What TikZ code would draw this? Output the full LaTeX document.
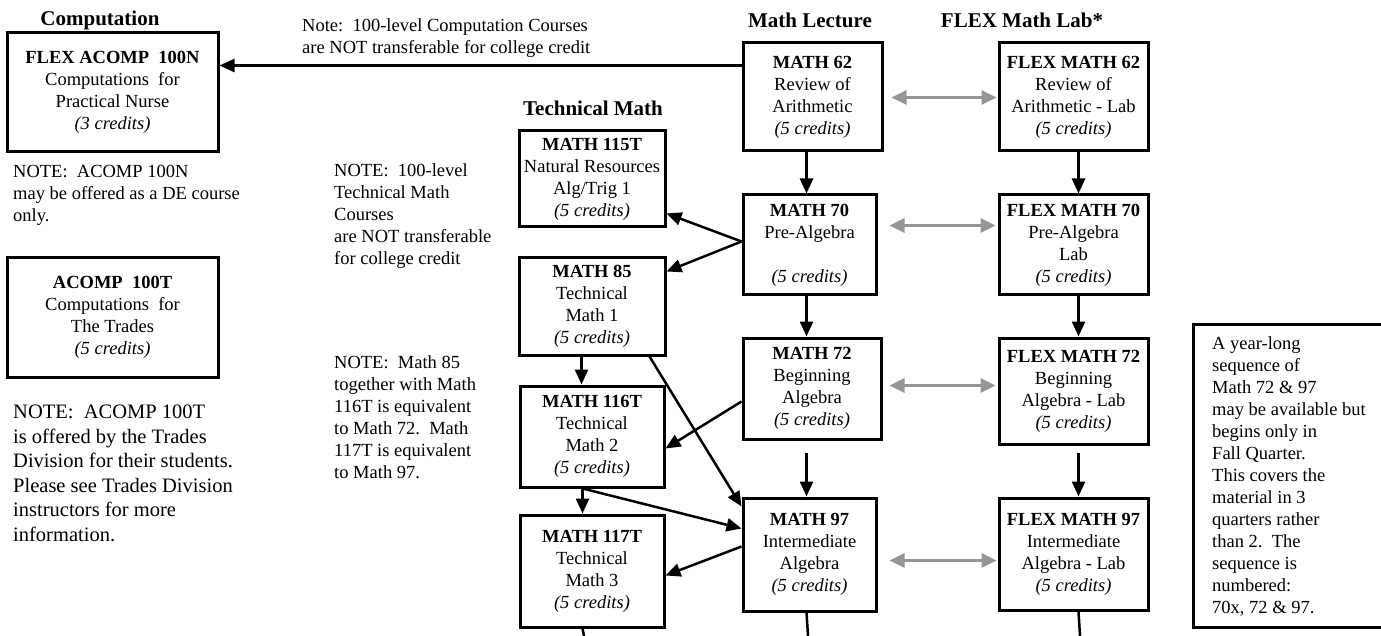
\documentclass[tikz,border=0pt]{standalone}
\usepackage{fontspec}
\setmainfont{Liberation Serif}
\usetikzlibrary{arrows.meta,calc}
\definecolor{arrgray}{RGB}{150,150,150}
\frenchspacing
\tikzset{
  box/.style={draw, line width=3pt, rectangle, inner sep=0pt, align=center,
    font=\fontsize{18.5}{22}\selectfont},
  arr/.style={line width=2.5pt, -{Triangle[length=15pt,width=13pt]}},
  plain/.style={line width=2.5pt},
  garr/.style={draw=arrgray, line width=3pt,
    {Triangle[length=15pt,width=14pt]}-{Triangle[length=15pt,width=14pt]}},
  note/.style={anchor=north west, align=left, inner sep=0pt,
    font=\fontsize{18.5}{22}\selectfont},
  bignote/.style={anchor=north west, align=left, inner sep=0pt,
    font=\fontsize{20.5}{24.5}\selectfont},
  hdr/.style={inner sep=0pt, font=\fontsize{21}{24}\selectfont\bfseries}
}
\newcommand{\cred}[1]{\textit{(#1 credits)}}
\begin{document}
\begin{tikzpicture}[x=1pt,y=-1pt]
\useasboundingbox (0,0) rectangle (1381,636);

% headers
\node[hdr] (hcomp) at (100,20) {Computation};
\node[hdr] (hlect) at (810,20) {Math Lecture};
\node[hdr] (hflex) at (1022,20) {FLEX Math Lab*};
\node[hdr] (htech) at (593,108) {Technical Math};

% notes
\node[note] (ncomp) at (302,18) {Note:~~100-level Computation Courses\\are NOT transferable for college credit};
\node[note] (nN) at (13,165) {NOTE:~~ACOMP 100N\\may be offered as a DE course\\only.};
\node[bignote] (nT) at (13,405) {NOTE:~~ACOMP 100T\\is offered by the Trades\\Division for their students.\\Please see Trades Division\\instructors for more\\information.};
\node[note] (ntech) at (334,163) {NOTE:~~100-level\\Technical Math\\Courses\\are NOT transferable\\for college credit};
\node[note] (n85) at (334,355) {NOTE:~~Math 85\\together with Math\\116T is equivalent\\to Math 72.~~Math\\117T is equivalent\\to Math 97.};

% left boxes
\node[box, minimum width=211pt, minimum height=119pt] (acompN) at (112.5,92.5)
  {\textbf{FLEX ACOMP~~100N}\\Computations~~for\\Practical Nurse\\\cred{3}};
\node[box, minimum width=211pt, minimum height=119pt] (acompT) at (112.5,317.5)
  {\textbf{ACOMP~~100T}\\Computations~~for\\The Trades\\\cred{5}};

% technical math
\node[box, minimum width=146pt, minimum height=96pt] (m115) at (592,179)
  {\textbf{MATH 115T}\\Natural Resources\\Alg/Trig 1\\\cred{5}};
\node[box, minimum width=146pt, minimum height=97pt] (m85) at (592,306.5)
  {\textbf{MATH 85}\\Technical\\Math 1\\\cred{5}};
\node[box, minimum width=144pt, minimum height=101pt] (m116) at (592,436.5)
  {\textbf{MATH 116T}\\Technical\\Math 2\\\cred{5}};
\node[box, minimum width=144pt, minimum height=112pt] (m117) at (592,571)
  {\textbf{MATH 117T}\\Technical\\Math 3\\\cred{5}};

% math lecture
\node[box, minimum width=139pt, minimum height=108pt] (m62) at (812.5,97)
  {\textbf{MATH 62}\\Review of\\Arithmetic\\\cred{5}};
\node[box, minimum width=133pt, minimum height=100pt] (m70) at (809.5,245)
  {\textbf{MATH 70}\\Pre-Algebra\\\strut\\\cred{5}};
\node[box, minimum width=138pt, minimum height=101pt] (m72) at (812,388.5)
  {\textbf{MATH 72}\\Beginning\\Algebra\\\cred{5}};
\node[box, minimum width=133pt, minimum height=113pt] (m97) at (809.5,554.5)
  {\textbf{MATH 97}\\Intermediate\\Algebra\\\cred{5}};

% flex lab
\node[box, minimum width=149pt, minimum height=108pt] (f62) at (1073.5,97)
  {\textbf{FLEX MATH 62}\\Review of\\Arithmetic - Lab\\\cred{5}};
\node[box, minimum width=149pt, minimum height=100pt] (f70) at (1073.5,245)
  {\textbf{FLEX MATH 70}\\Pre-Algebra\\Lab\\\cred{5}};
\node[box, minimum width=149pt, minimum height=106pt] (f72) at (1073.5,391)
  {\textbf{FLEX MATH 72}\\Beginning\\Algebra - Lab\\\cred{5}};
\node[box, minimum width=149pt, minimum height=112pt] (f97) at (1073.5,554)
  {\textbf{FLEX MATH 97}\\Intermediate\\Algebra - Lab\\\cred{5}};

% year-long note (box runs off the right edge: no right side drawn)
\draw[line width=3pt] (1384,324) -- (1193,324) -- (1193,627) -- (1384,627);
\node[note] (yeartext) at (1212,336) {A year-long\\sequence of\\Math 72 \& 97\\may be available but\\begins only in\\Fall Quarter.\\This covers the\\material in 3\\quarters rather\\than 2.~~The\\sequence is\\numbered:\\70x, 72 \& 97.};

% bottom free ends
\coordinate (b117) at (584,636);
\coordinate (b97) at (808,636);
\coordinate (bf97) at (1080,636);

% arrows
\draw[arr] ($(m62.north west)+(0,24)$) -- ($(acompN.north east)+(0,34)$);
\draw[arr] ($(m62.south west)+(65,0)$) -- ($(m70.north west)+(65,0)$);
\draw[arr] ($(m70.south west)+(65,0)$) -- ($(m72.north west)+(65,0)$);
\draw[arr] ($(m72.south west)+(65,12)$) -- ($(m97.north west)+(65,0)$);
\draw[arr] ($(f62.south west)+(81,0)$) -- ($(f70.north west)+(81,0)$);
\draw[arr] ($(f70.south west)+(81,0)$) -- ($(f72.north west)+(81,0)$);
\draw[arr] ($(f72.south west)+(81,7)$) -- ($(f97.north west)+(81,0)$);
\draw[arr] ($(m85.south west)+(64,0)$) -- ($(m116.north west)+(63,0)$);
\draw[arr] ($(m116.south west)+(64,0)$) -- ($(m117.north west)+(64,0)$);

\draw[arr] ($(m70.north west)+(0,48)$) -- ($(m115.north east)+(0,84)$);
\draw[arr] ($(m70.north west)+(0,48)$) -- ($(m85.north east)+(0,15)$);
\draw[arr] ($(m72.north west)+(0,65)$) -- ($(m116.north east)+(0,64)$);
\draw[arr] ($(m85.south east)+(-17,0)$) -- ($(m97.north west)+(0,10)$);
\draw[arr] ($(m116.south west)+(64,0)$) -- ($(m97.north west)+(0,32)$);
\draw[arr] ($(m97.north west)+(0,50)$) -- ($(m117.north east)+(0,62)$);

\draw[plain] ($(m117.south west)+(64,0)$) -- (b117);
\draw[plain] ($(m97.south west)+(65,0)$) -- (b97);
\draw[plain] ($(f97.south west)+(81,0)$) -- (bf97);

% gray double arrows
\draw[garr] ($(m62.north east)+(8,56)$) -- ($(f62.north west)+(-1,56)$);
\draw[garr] ($(m70.north east)+(12,32)$) -- ($(f70.north west)+(-2,32)$);
\draw[garr] ($(m72.north east)+(7,49)$) -- ($(f72.north west)+(-2,49)$);
\draw[garr] ($(m97.north east)+(12,64)$) -- ($(f97.north west)+(-1,64)$);
\end{tikzpicture}
\end{document}
